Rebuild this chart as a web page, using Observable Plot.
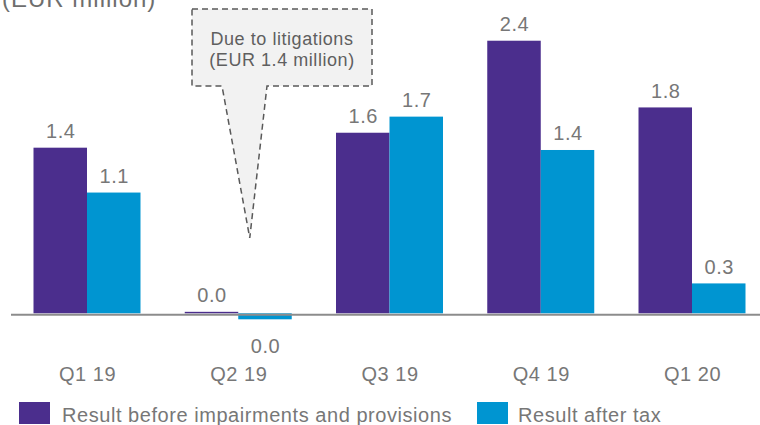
<!DOCTYPE html>
<html>
<head>
<meta charset="utf-8">
<script src="https://cdn.jsdelivr.net/npm/d3@7"></script>
<script src="https://cdn.jsdelivr.net/npm/@observablehq/plot@0.6"></script>
<style>
  body { margin: 0; background: #fff; font-family: "Liberation Sans", Arial, sans-serif; }
  #wrap { position: relative; width: 760px; height: 425px; overflow: hidden; }
  #chart { position: absolute; left: 0; top: 0; }
  .title { position: absolute; left: 2px; top: -13px; font-size: 24px; line-height: 24px; letter-spacing: 1px; color: #6e6e6e; white-space: nowrap; }
  .sw { position: absolute; width: 31px; height: 22px; top: 402px; }
  .lt { position: absolute; top: 404px; font-size: 20px; line-height: 22px; letter-spacing: 0.55px; color: #777; white-space: nowrap; }
</style>
</head>
<body>
<div id="wrap">
  <div id="chart"></div>
</div>
<script>
// ---- data ----
const quarters = ["Q1 19", "Q2 19", "Q3 19", "Q4 19", "Q1 20"];
const beforeValues = [1.44, 0.013, 1.57, 2.37, 1.79];
const afterValues = [1.05, -0.052, 1.71, 1.42, 0.26];
const beforeLabels = ["1.4", "0.0", "1.6", "2.4", "1.8"];
const afterLabels = ["1.1", "0.0", "1.7", "1.4", "0.3"];
const seriesNames = ["Result before impairments and provisions", "Result after tax"];
const unitTitle = "(EUR million)";
const calloutLines = ["Due to litigations", "(EUR 1.4 million)"];
const calloutQuarter = "Q2 19";
const calloutTipValue = 0.655;

// ---- styles / layout ----
const colors = ["#4b2e8d", "#0095d1"];
const textGray = "#777";
const W = 760, H = 395, mL = 33.5, mR = 14.5, mT = 0, mB = 65;
const padInner = 0.2926;
const yDomain = [-0.145, 2.724];
const step = (W - mL - mR) / (quarters.length - padInner);
const bw = step * (1 - padInner);
const half = bw / 2;

const before = quarters.map((q, i) => ({quarter: q, value: beforeValues[i], label: beforeLabels[i]}));
const after = quarters.map((q, i) => ({quarter: q, value: afterValues[i], label: afterLabels[i]}));

const labelMarks = (rows, dx) => [
  Plot.text(rows.filter(d => d.value >= 0), {x: "quarter", y: "value", text: "label", dx, dy: -10, lineAnchor: "bottom", fill: textGray, fontSize: 20}),
  Plot.text(rows.filter(d => d.value < 0), {x: "quarter", y: "value", text: "label", dx, dy: 19, lineAnchor: "top", fill: textGray, fontSize: 20})
];

const plot = Plot.plot({
  width: W, height: H,
  marginLeft: mL, marginRight: mR, marginTop: mT, marginBottom: mB,
  style: {fontFamily: '"Liberation Sans", Arial, sans-serif', fontSize: "20px", color: textGray, background: "transparent", overflow: "visible", letterSpacing: "0.55px"},
  x: {domain: quarters, paddingInner: padInner, paddingOuter: 0, round: false, tickSize: 0, tickPadding: 36, label: null},
  y: {domain: yDomain, axis: null},
  marks: [
    Plot.barY(before, {x: "quarter", y: "value", fill: colors[0], insetLeft: 0, insetRight: half}),
    Plot.barY(after, {x: "quarter", y: "value", fill: colors[1], insetLeft: half, insetRight: 0}),
    Plot.ruleY([0], {stroke: "#8c8c8c", strokeWidth: 2, insetLeft: -(mL - 11), insetRight: -mR, dy: 1}),
    ...labelMarks(before, -half / 2),
    ...labelMarks(after, half / 2)
  ]
});
document.getElementById("chart").appendChild(plot);

// ---- callout annotation ----
const xs = d3.scaleBand(quarters, [mL, W - mR]).paddingInner(padInner).paddingOuter(0);
const ys = d3.scaleLinear(yDomain, [H - mB, mT]);
const tipX = xs(calloutQuarter) + bw / 2 + 11.5;
const tipY = ys(calloutTipValue);
const box = {left: 192, right: 372, top: 9, bottom: 86, notchL: 222, notchR: 267};
const svg = d3.select(plot);
const g = svg.append("g");
g.append("path")
  .attr("d", `M${box.left},${box.top}H${box.right}V${box.bottom}H${box.notchR}L${tipX},${tipY}L${box.notchL},${box.bottom}H${box.left}Z`)
  .attr("fill", "#f2f2f2")
  .attr("stroke", "#595959")
  .attr("stroke-width", 1.5)
  .attr("stroke-dasharray", "6,4");
const cx = (box.left + box.right) / 2 + 0;
calloutLines.forEach((t, i) => {
  g.append("text")
    .attr("x", cx).attr("y", 45 + i * 21)
    .attr("text-anchor", "middle")
    .attr("font-size", 18)
    .attr("fill", "#5f5f5f")
    .text(t);
});

// ---- title & legend ----
const wrap = document.getElementById("wrap");
const title = document.createElement("div");
title.className = "title";
title.textContent = unitTitle;
wrap.appendChild(title);
const legendPos = [{sw: 19, txt: 62}, {sw: 477, txt: 518}];
seriesNames.forEach((name, i) => {
  const s = document.createElement("div");
  s.className = "sw";
  s.style.left = legendPos[i].sw + "px";
  s.style.background = colors[i];
  wrap.appendChild(s);
  const t = document.createElement("div");
  t.className = "lt";
  t.style.left = legendPos[i].txt + "px";
  t.textContent = name;
  wrap.appendChild(t);
});
</script>
</body>
</html>
